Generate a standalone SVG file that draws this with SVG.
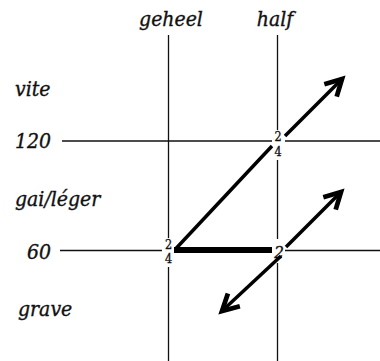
<svg xmlns="http://www.w3.org/2000/svg" width="380" height="361" viewBox="0 0 380 361">
<style>
.lbl{font-family:'DejaVu Serif Condensed','DejaVu Serif',serif;font-stretch:condensed;font-style:italic;font-size:21px;fill:#111;stroke:#111;stroke-width:0.35}
.frac{font-family:'DejaVu Serif Condensed','DejaVu Serif',serif;font-stretch:condensed;font-size:12.5px;fill:#111;stroke:#111;stroke-width:0.3;text-anchor:middle}
.big{font-family:'DejaVu Serif Condensed','DejaVu Serif',serif;font-stretch:condensed;font-style:italic;font-size:17px;fill:#111;stroke:#111;stroke-width:0.3;text-anchor:middle}
.thin{stroke:#111;stroke-width:1.3;fill:none}
.arr{stroke:#000;stroke-width:3.5;fill:none}
</style>
<defs>
<marker id="ah" markerUnits="userSpaceOnUse" orient="auto" markerWidth="30" markerHeight="30" refX="0" refY="0" viewBox="-20 -12 24 24" overflow="visible">
<path d="M -13 -7 L 0 0 L -13 7" stroke="#000" stroke-width="3.8" fill="none" stroke-linejoin="miter" stroke-miterlimit="10"/>
</marker>
</defs>
<g id="axes">
<g id="col-geheel">
<text class="lbl" x="171" y="26" text-anchor="middle">geheel</text>
<line class="thin" x1="168.5" y1="35" x2="168.5" y2="238"/>
<line class="thin" x1="168.5" y1="267" x2="168.5" y2="361"/>
</g>
<g id="col-half">
<text class="lbl" x="275" y="26" text-anchor="middle">half</text>
<line class="thin" x1="277.5" y1="35" x2="277.5" y2="130"/>
<line class="thin" x1="277.5" y1="160" x2="277.5" y2="239"/>
<line class="thin" x1="277.5" y1="263" x2="277.5" y2="361"/>
</g>
<g id="row-vite"><text class="lbl" x="15" y="96">vite</text></g>
<g id="row-120">
<text class="lbl" x="15" y="148">120</text>
<line class="thin" x1="62" y1="141" x2="272" y2="141"/>
<line class="thin" x1="285" y1="141" x2="380" y2="141"/>
</g>
<g id="row-gai"><text class="lbl" x="15" y="206">gai/léger</text></g>
<g id="row-60">
<text class="lbl" x="27" y="259">60</text>
<line class="thin" x1="60" y1="250.5" x2="162" y2="250.5"/>
<line class="thin" x1="285" y1="250.5" x2="380" y2="250.5"/>
</g>
<g id="row-grave"><text class="lbl" x="18" y="316">grave</text></g>
</g>
<g id="node-geheel-60">
<text class="frac" x="168.5" y="249">2</text>
<text class="frac" x="168.5" y="263">4</text>
</g>
<g id="node-half-120">
<text class="frac" x="278" y="141">2</text>
<text class="frac" x="278" y="156">4</text>
</g>
<g id="node-half-60">
<text class="big" x="279" y="258">2</text>
</g>
<g id="connectors">
<line x1="174" y1="250" x2="272" y2="250" stroke="#000" stroke-width="6"/>
<line class="arr" x1="175.5" y1="249" x2="272" y2="146"/>
<line class="arr" x1="285" y1="136" x2="342" y2="79" marker-end="url(#ah)"/>
<line class="arr" x1="286" y1="247" x2="341" y2="192" marker-end="url(#ah)"/>
<line class="arr" x1="281" y1="256" x2="222" y2="311" marker-end="url(#ah)"/>
</g>
</svg>
